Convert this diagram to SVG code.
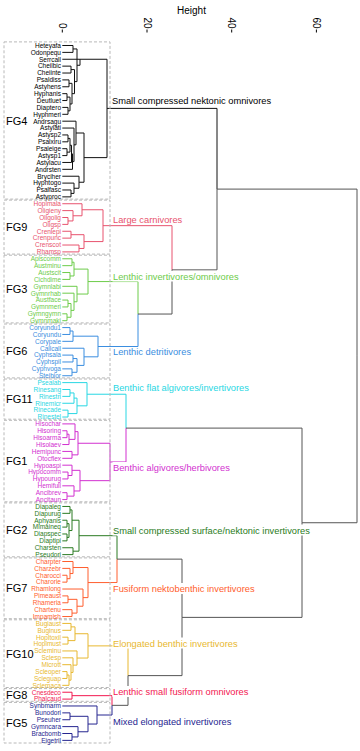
<svg xmlns="http://www.w3.org/2000/svg" width="360" height="751" viewBox="0 0 360 751">
<style>
text{font-family:"Liberation Sans",Arial,sans-serif}
.leaf{font-size:6.5px;text-anchor:end}
.fg{font-size:11px;fill:#000}
.box{fill:none;stroke:#b8b8b8;stroke-width:1;stroke-dasharray:3 2}
.cl{font-size:9.3px}
.bg{fill:#fff}
.ax{font-size:10px;fill:#000}
path{fill:none;stroke-width:1}
.c4{stroke:#111}.t4{fill:#000}
.c9{stroke:#E8536E}.t9{fill:#E8536E}
.c3{stroke:#6DCC4A}.t3{fill:#6DCC4A}
.c6{stroke:#3B8EE0}.t6{fill:#3B8EE0}
.c11{stroke:#28D7E3}.t11{fill:#28D7E3}
.c1{stroke:#D230D0}.t1{fill:#D230D0}
.c2{stroke:#2A7B22}.t2{fill:#2A7B22}
.c7{stroke:#FF5E2E}.t7{fill:#FF5E2E}
.c10{stroke:#E8B830}.t10{fill:#E8B830}
.c8{stroke:#F21850}.t8{fill:#F21850}
.c5{stroke:#262690}.t5{fill:#262690}
.cg{stroke:#555;stroke-width:1.2}
</style>
<rect width="360" height="751" fill="#fff"/>
<g id="axis">
<text class="ax" x="177" y="13.5">Height</text>
<g stroke="#000" stroke-width="1">
<line x1="62.3" y1="29.5" x2="62.3" y2="32.5"/><line x1="147" y1="29.5" x2="147" y2="32.5"/><line x1="231.7" y1="29.5" x2="231.7" y2="32.5"/><line x1="316.4" y1="29.5" x2="316.4" y2="32.5"/>
</g>
<text class="ax" transform="translate(58.8,28.5) rotate(90)" text-anchor="end">0</text>
<text class="ax" transform="translate(143.5,28.5) rotate(90)" text-anchor="end">20</text>
<text class="ax" transform="translate(228.2,28.5) rotate(90)" text-anchor="end">40</text>
<text class="ax" transform="translate(312.9,28.5) rotate(90)" text-anchor="end">60</text>
</g>
<g id="connectors">
<g class="c4">
<path d="M62.3 45.5H73V52.38H62.3M62.3 66.14H71V73.02H62.3M62.3 79.9H69V86.78H62.3M62.3 93.66H67V100.54H62.3M62.3 107.42H68V114.3H62.3M67 97.1H70V110.86H68M69 83.34H72V103.98H70M71 69.58H74.5V93.66H72M73 48.94H77V81.62H74.5M62.3 59.26H80V65.28H77"/>
<path d="M62.3 134.94H68V141.82H62.3M62.3 148.7H67V155.58H62.3M68 138.38H70V152.14H67M70 145.26H71.5V162.46H62.3M71.5 153.86H72.5V169.34H62.3M62.3 128.06H74V161.6H72.5M62.3 121.18H76V144.83H74M62.3 189.98H71V196.86H62.3M62.3 183.1H74V193.42H71M62.3 176.22H79V188.26H74M76 133H84V182.24H79M80 59.26H107V157.62H84"/>
<path d="M107 108.4H217V189.1"/>
</g>
<g class="c9">
<path d="M62.3 217.5H68V224.38H62.3M62.3 210.62H73V220.94H68M62.3 203.74H82V215.78H73M62.3 231.26H71V238.14H62.3M62.3 245.02H79V251.9H62.3M71 234.7H84V248.46H79M82 209.76H103V241.58H84"/>
<path d="M103 225.67H172V269.86"/>
</g>
<g class="c3">
<path d="M62.3 258.78H72V265.66H62.3M62.3 272.54H70V279.42H62.3M72 262.22H74V275.98H70M62.3 300.06H68V306.94H62.3M62.3 313.82H67V320.7H62.3M68 303.5H71V317.26H67M62.3 293.18H74V310.38H71M62.3 286.3H77V301.78H74M74 269.1H88V294.04H77"/>
<path d="M88 281.57H138V314.04"/>
</g>
<g class="c6">
<path d="M62.3 327.58H70V334.46H62.3M70 331.02H73V341.34H62.3M62.3 355.1H73V361.98H62.3M62.3 368.86H72V375.74H62.3M73 358.54H77V372.3H72M62.3 348.22H84V365.42H77M73 336.18H98V356.82H84"/>
<path d="M138 314.04V346.5H98"/>
</g>
<g class="c11">
<path d="M62.3 389.5H70V396.38H62.3M70 392.94H74V403.26H62.3M62.3 410.14H68V417.02H62.3M74 398.1H77V413.58H68M62.3 382.62H87V405.84H77"/>
<path d="M87 394.23H126V428.1"/>
</g>
<g class="c1">
<path d="M62.3 430.78H67V437.66H62.3M67 434.22H69V444.54H62.3M62.3 423.9H75V439.38H69M62.3 451.42H72V458.3H62.3M75 431.64H78V454.86H72M62.3 472.06H68V478.94H62.3M62.3 465.18H72V475.5H68M62.3 492.7H67V499.58H62.3M62.3 485.82H74V496.14H67M72 470.34H80V490.98H74M78 443.25H110V480.66H80"/>
<path d="M126 428.1V461.96H110"/>
</g>
<g class="c2">
<path d="M62.3 506.46H70V513.34H62.3M62.3 520.22H67V527.1H62.3M62.3 533.98H67V540.86H62.3M67 523.66H69V537.42H67M70 509.9H72V530.54H69M62.3 547.74H73V554.62H62.3M72 520.22H79V551.18H73"/>
<path d="M79 535.7H117V559.14"/>
</g>
<g class="c7">
<path d="M62.3 575.26H67V582.14H62.3M62.3 568.38H70V578.7H67M62.3 561.5H73V573.54H70M62.3 595.9H68V602.78H62.3M62.3 609.66H72V616.54H62.3M68 599.34H77V613.1H72M62.3 589.02H83V606.22H77M73 567.52H88V597.62H83"/>
<path d="M117 559.14V582.57H88"/>
</g>
<g class="c10">
<path d="M62.3 623.42H71V630.3H62.3M62.3 637.18H68V644.06H62.3M71 626.86H75V640.62H68M62.3 671.58H67V678.46H62.3M67 675.02H69V685.34H62.3M62.3 664.7H71V680.18H69M62.3 657.82H73V672.44H71M62.3 650.94H77V665.13H73M75 633.74H88V658.04H77"/>
<path d="M88 645.89H128V675.62"/>
</g>
<g class="c8">
<path d="M62.3 692.22H72V699.1H62.3"/>
<path d="M72 695.66H112V705.34"/>
</g>
<g class="c5">
<path d="M62.3 712.86H70V719.74H62.3M62.3 733.5H72V740.38H62.3M62.3 726.62H78V736.94H72M70 716.3H88V731.78H78M62.3 705.98H97V724.04H88"/>
<path d="M112 705.34V715.01H97"/>
</g>
<g class="cg">
<path d="M217 189.1V269.86H172"/>
<path d="M172 269.86V314.04H138"/>
<path d="M126 428.1H302V522.74"/>
<path d="M117 559.14H182V617.38"/>
<path d="M128 675.62V705.34H112"/>
<path d="M128 675.62H182V617.38"/>
<path d="M182 617.38H302V522.74"/>
<path d="M302 522.74H357V355.9"/>
<path d="M217 189.1H357V355.9"/>
</g>
</g>
<g id="FG4">
<rect class="box" x="4" y="41.9" width="106" height="157.2"/>
<text class="fg" x="6" y="124.5">FG4</text>
<g class="leaf t4">
<text x="61" y="47.8">Heteyafa</text><text x="61" y="54.7">Odonpequ</text><text x="61" y="61.6">Serrcall</text><text x="61" y="68.4">Cheilbic</text><text x="61" y="75.3">Cheiinte</text><text x="61" y="82.2">Psaldiss</text><text x="61" y="89.1">Astyhens</text><text x="61" y="96">Hyphanis</text><text x="61" y="102.8">Deutluet</text><text x="61" y="109.7">Diaptero</text><text x="61" y="116.6">Hyphmeri</text><text x="61" y="123.5">Andrsagu</text><text x="61" y="130.4">Astylati</text><text x="61" y="137.2">Astysp2</text><text x="61" y="144.1">Psalxiru</text><text x="61" y="151">Psaleige</text><text x="61" y="157.9">Astysp1</text><text x="61" y="164.8">Astylacu</text><text x="61" y="171.6">Andrsten</text><text x="61" y="178.5">Bryciher</text><text x="61" y="185.4">Hyphtogo</text><text x="61" y="192.3">Psalfasc</text><text x="61" y="199.2">Astyproc</text>
</g>
</g>
<g id="FG9">
<rect class="box" x="4" y="200.1" width="106" height="54"/>
<text class="fg" x="6" y="231">FG9</text>
<g class="leaf t9">
<text x="61" y="206">Hoplmala</text><text x="61" y="212.9">Oligieny</text><text x="61" y="219.8">Oligolig</text><text x="61" y="226.7">Oligsp</text><text x="61" y="233.6">Crenlepi</text><text x="61" y="240.4">Crenpunc</text><text x="61" y="247.3">Crenscot</text><text x="61" y="254.2">Rhamsp</text>
</g>
</g>
<g id="FG3">
<rect class="box" x="4" y="255.2" width="106" height="67.7"/>
<text class="fg" x="6" y="293">FG3</text>
<g class="leaf t3">
<text x="61" y="261.1">Apiscomm</text><text x="61" y="268">Austminu</text><text x="61" y="274.8">Austscit</text><text x="61" y="281.7">Cichdime</text><text x="61" y="288.6">Gymnlabi</text><text x="61" y="295.5">Gymnrhab</text><text x="61" y="302.4">Austface</text><text x="61" y="309.2">Gymnmeri</text><text x="61" y="316.1">Gymngymn</text><text x="61" y="323">Gymnmaki</text>
</g>
</g>
<g id="FG6">
<rect class="box" x="4" y="324" width="106" height="53.9"/>
<text class="fg" x="6" y="355">FG6</text>
<g class="leaf t6">
<text x="61" y="329.9">Coryundu1</text><text x="61" y="336.8">Coryundu</text><text x="61" y="343.6">Corypale</text><text x="61" y="350.5">Callcall</text><text x="61" y="357.4">Cyphsala</text><text x="61" y="364.3">Cyphspil</text><text x="61" y="371.2">Cyphvoga</text><text x="61" y="378">Steibior</text>
</g>
</g>
<g id="FG11">
<rect class="box" x="4" y="379" width="106" height="40.2"/>
<text class="fg" x="6" y="403">FG11</text>
<g class="leaf t11">
<text x="61" y="384.9">Psealab</text><text x="61" y="391.8">Rinesang</text><text x="61" y="398.7">Rinestri</text><text x="61" y="405.6">Rinemicr</text><text x="61" y="412.4">Rinecade</text><text x="61" y="419.3">Rinestel</text>
</g>
</g>
<g id="FG1">
<rect class="box" x="4" y="420.3" width="106" height="81.5"/>
<text class="fg" x="6" y="465">FG1</text>
<g class="leaf t1">
<text x="61" y="426.2">Hisochar</text><text x="61" y="433.1">Hisoring</text><text x="61" y="440">Hisoarma</text><text x="61" y="446.8">Hisolaev</text><text x="61" y="453.7">Hemipunc</text><text x="61" y="460.6">Otocflex</text><text x="61" y="467.5">Hypoaspi</text><text x="61" y="474.4">Hypocomm</text><text x="61" y="481.2">Hypourug</text><text x="61" y="488.1">Hemifull</text><text x="61" y="495">Ancibrev</text><text x="61" y="501.9">Ancitaun</text>
</g>
</g>
<g id="FG2">
<rect class="box" x="4" y="502.9" width="106" height="53.9"/>
<text class="fg" x="6" y="534">FG2</text>
<g class="leaf t2">
<text x="61" y="508.8">Diapaleg</text><text x="61" y="515.6">Diapurug</text><text x="61" y="522.5">Aphyanis</text><text x="61" y="529.4">Mimaineq</text><text x="61" y="536.3">Diapspec</text><text x="61" y="543.2">Diaptipi</text><text x="61" y="550">Charsten</text><text x="61" y="556.9">Pseudori</text>
</g>
</g>
<g id="FG7">
<rect class="box" x="4" y="557.9" width="106" height="60.8"/>
<text class="fg" x="6" y="592">FG7</text>
<g class="leaf t7">
<text x="61" y="563.8">Charpter</text><text x="61" y="570.7">Charzebr</text><text x="61" y="577.6">Charocci</text><text x="61" y="584.4">Charorie</text><text x="61" y="591.3">Rhamlong</text><text x="61" y="598.2">Pimeaust</text><text x="61" y="605.1">Rhameria</text><text x="61" y="612">Chartenu</text><text x="61" y="618.8">Impamish</text>
</g>
</g>
<g id="FG10">
<rect class="box" x="4" y="619.8" width="106" height="67.7"/>
<text class="fg" x="6" y="657.5">FG10</text>
<g class="leaf t10">
<text x="61" y="625.7">Bugiaust</text><text x="61" y="632.6">Buginus</text><text x="61" y="639.5">Hopltoxil</text><text x="61" y="646.4">Hoplmust</text><text x="61" y="653.2">Scleminu</text><text x="61" y="660.1">Sclesp</text><text x="61" y="667">Micrott</text><text x="61" y="673.9">Scleoper</text><text x="61" y="680.8">Scleguap</text><text x="61" y="687.6">Sclemaca</text>
</g>
</g>
<g id="FG8">
<rect class="box" x="4" y="688.6" width="106" height="12.7"/>
<text class="fg" x="6" y="699">FG8</text>
<g class="leaf t8">
<text x="61" y="694.5">Cnesdeco</text><text x="61" y="701.4">Phalcaud</text>
</g>
</g>
<g id="FG5">
<rect class="box" x="4" y="702.4" width="106" height="40.6"/>
<text class="fg" x="6" y="727">FG5</text>
<g class="leaf t5">
<text x="61" y="708.3">Synbmarm</text><text x="61" y="715.2">Bunodori</text><text x="61" y="722">Pseuher</text><text x="61" y="728.9">Gymncara</text><text x="61" y="735.8">Bracbomb</text><text x="61" y="742.7">Eigetril</text>
</g>
</g>
<g id="cluster-labels" class="cl">
<rect class="bg" x="111.5" y="94.5" width="161" height="11"/>
<text x="112" y="103.5" fill="#000">Small compressed nektonic omnivores</text>
<rect class="bg" x="112.5" y="213.5" width="71" height="11"/>
<text x="113" y="222.5" class="t9">Large carnivores</text>
<rect class="bg" x="112.5" y="270.8" width="127" height="10.7"/>
<text x="113" y="279.5" class="t3">Lenthic invertivores/omnivores</text>
<rect class="bg" x="112.5" y="347.5" width="80" height="10"/>
<text x="113" y="354.5" class="t6">Lenthic detritivores</text>
<rect class="bg" x="112.5" y="381.5" width="138" height="11"/>
<text x="113" y="390.5" class="t11">Benthic flat algivores/invertivores</text>
<rect class="bg" x="112.5" y="462" width="119" height="11"/>
<text x="113" y="471" class="t1">Benthic algivores/herbivores</text>
<rect class="bg" x="112.5" y="524.5" width="199" height="11"/>
<text x="113" y="533.5" class="t2">Small compressed surface/nektonic invertivores</text>
<rect class="bg" x="112.5" y="583" width="144" height="11"/>
<text x="113" y="592" class="t7">Fusiform nektobenthic invertivores</text>
<rect class="bg" x="112.5" y="637.5" width="127" height="11"/>
<text x="113" y="646.5" class="t10">Elongated benthic invertivores</text>
<rect class="bg" x="112.5" y="686" width="137" height="11"/>
<text x="113" y="695" class="t8">Lenthic small fusiform omnivores</text>
<rect class="bg" x="112.5" y="716" width="120" height="11"/>
<text x="113" y="725" class="t5">Mixed elongated invertivores</text>
</g>
</svg>
